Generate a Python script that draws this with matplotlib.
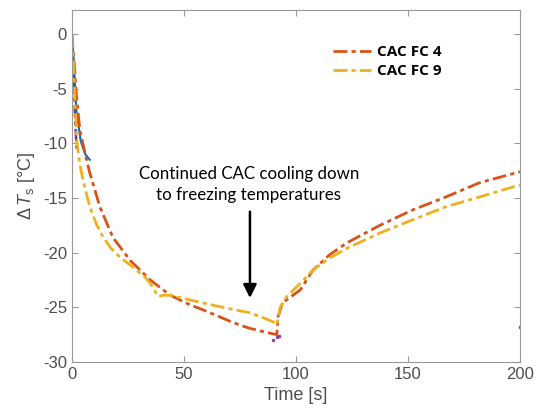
import matplotlib.pyplot as plt

plt.rcParams["font.family"] = "Liberation Sans"
plt.rcParams["axes.unicode_minus"] = False
plt.rcParams["mathtext.fontset"] = "custom"
plt.rcParams["mathtext.rm"] = "Liberation Sans"
plt.rcParams["mathtext.it"] = "Liberation Sans:italic"

# CAC FC 4 (orange)
t_fc4 = [0, 1, 2, 3.6, 6, 8, 12.5, 18.3, 26, 35, 44, 53, 57, 64, 72, 79, 87, 91.5,
         92, 94, 96, 102, 107.6, 115, 122.8, 137.5, 152, 167, 182, 200]
dt_fc4 = [0, -2.5, -5.5, -8.8, -11, -12.7, -15.8, -18.6, -20.7, -22.5, -23.9, -24.8, -25.1,
          -25.7, -26.4, -26.9, -27.3, -27.5, -25.9, -24.6, -24.3, -23.4, -21.6, -20.2, -19.1,
          -17.5, -16.1, -14.9, -13.6, -12.6]

# CAC FC 9 (yellow)
t_fc9 = [0, 0.8, 1.5, 2.2, 3.5, 5, 8, 11, 14, 17.5, 21.4, 29, 33, 36, 38.4, 41, 44, 50,
         58.5, 65, 72, 79.5, 86, 90.6, 91.5, 93, 96, 102, 107.6, 115, 122.8, 137.5, 152,
         167, 182, 200]
dt_fc9 = [0, -3, -6.5, -9.7, -11.8, -13.4, -15.8, -17.4, -18.6, -19.6, -20.4, -21.6, -22.3,
          -23.1, -24.0, -23.9, -23.9, -24.2, -24.6, -24.9, -25.2, -25.5, -26.0, -26.4, -26.6,
          -25.0, -24.0, -22.8, -21.6, -20.5, -19.6, -18.2, -17.0, -15.8, -14.9, -13.8]

# unlabelled early traces
t_blue = [0, 1, 2, 4, 6, 8]
dt_blue = [0, -3, -7, -9.8, -11, -11.5]
t_purple = [0, 0.5, 1, 1.5, 2, 2.2]
dt_purple = [0, -2, -5, -8, -10, -10.5]
t_purple_pts = [90, 91.5, 92.5, 200]
dt_purple_pts = [-28.0, -27.7, -27.6, -26.8]

fig = plt.figure(figsize=(5.36, 4.17), dpi=100)
ax = fig.add_axes([0.134, 0.132, 0.836, 0.844])

dash = (0, (5, 1.5, 1.5, 1.5))
ax.plot(t_purple, dt_purple, color="#7E2F8E", ls=dash, lw=1.8)
ax.plot(t_blue, dt_blue, color="#0072BD", ls="-", lw=1.5)
ax.plot(t_fc4, dt_fc4, color="#D95319", ls=dash, lw=2, label="CAC FC 4")
ax.plot(t_fc9, dt_fc9, color="#EDB120", ls=dash, lw=2, label="CAC FC 9")
ax.plot(t_purple_pts, dt_purple_pts, ls="none", marker="s", ms=1.6, color="#7E2F8E", alpha=0.8)

ax.set_xlim(0, 200)
ax.set_ylim(-30, 2.2)
ax.set_xticks([0, 50, 100, 150, 200])
ax.set_yticks([0, -5, -10, -15, -20, -25, -30])

gray = "#4d4d4d"
for s in ax.spines.values():
    s.set_color("#999999")
ax.tick_params(direction="in", top=True, right=True, colors="#999999",
               labelcolor=gray, labelsize=12, length=4)
ax.set_xlabel("Time [s]", color=gray, fontsize=13)
ax.set_ylabel(r"$\Delta\,T_\mathrm{s}$ [°C]", color=gray, fontsize=13)

ax.text(79, -13.8, "Continued CAC cooling down\nto freezing temperatures",
        ha="center", va="center", fontsize=12.2, family="Lato", linespacing=1.4)
ax.annotate("", xy=(79.5, -24.4), xytext=(79.5, -16.0),
            arrowprops=dict(arrowstyle="-|>", color="black", lw=1.8, mutation_scale=20))

leg = ax.legend(loc="upper right", bbox_to_anchor=(0.857, 0.94), frameon=False,
                prop={"family": "Open Sans", "weight": "bold", "size": 11},
                handlelength=2.5, handletextpad=0.4, labelspacing=0.35)

fig.savefig("out.png", dpi=100)
